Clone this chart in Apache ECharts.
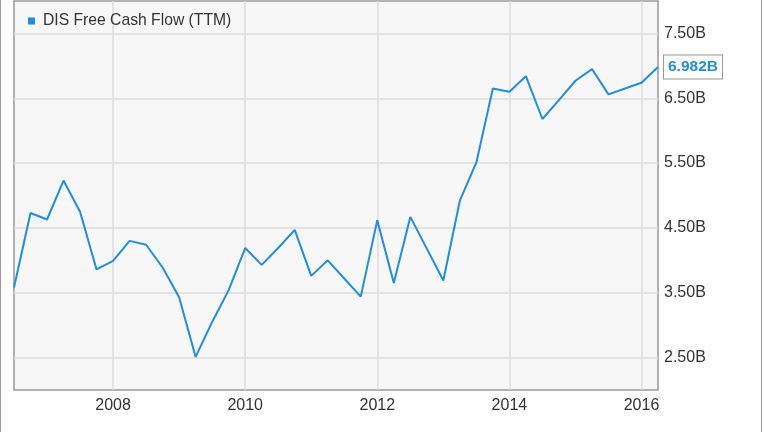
<!DOCTYPE html>
<html>
<head>
<meta charset="utf-8">
<script src="https://cdn.jsdelivr.net/npm/echarts@6/dist/echarts.min.js"></script>
<style>
  html, body { margin: 0; padding: 0; background: #fff; }
  #chart { position: absolute; left: 0; top: 0; width: 764px; height: 432px; }
  #frame { position: absolute; left: 0; top: 0; width: 760px; height: 432px;
           border-left: 1px solid #999; border-right: 1px solid #999; pointer-events: none; }
</style>
</head>
<body>
<div id="chart"></div>
<div id="frame"></div>
<script>
// Quarter ends (year, quarter)
const quarters = [
  '2006Q2','2006Q3','2006Q4','2007Q1','2007Q2','2007Q3','2007Q4','2008Q1',
  '2008Q2','2008Q3','2008Q4','2009Q1','2009Q2','2009Q3','2009Q4','2010Q1',
  '2010Q2','2010Q3','2010Q4','2011Q1','2011Q2','2011Q3','2011Q4','2012Q1',
  '2012Q2','2012Q3','2012Q4','2013Q1','2013Q2','2013Q3','2013Q4','2014Q1',
  '2014Q2','2014Q3','2014Q4','2015Q1','2015Q2','2015Q3','2015Q4','2016Q1'
];
// DIS Free Cash Flow (TTM), billions USD
const fcf = [
  3.58, 4.73, 4.63, 5.23, 4.75, 3.86, 3.99, 4.30,
  4.24, 3.89, 3.43, 2.51, 3.05, 3.54, 4.19, 3.93,
  4.19, 4.47, 3.76, 4.00, 3.72, 3.44, 4.62, 3.65,
  4.67, 4.18, 3.69, 4.92, 5.51, 6.65, 6.60, 6.84,
  6.18, 6.47, 6.77, 6.95, 6.56, 6.65, 6.74, 6.982
];
const seriesName = 'DIS Free Cash Flow (TTM)';
const yearLabels = [2008, 2010, 2012, 2014, 2016];

function qToYear(q) {
  const y = parseInt(q.slice(0, 4), 10);
  const n = parseInt(q.slice(5), 10);
  return y + n / 4;
}
const data = quarters.map((q, i) => [qToYear(q), fcf[i]]);

const blue = '#1e8ee8';
const grid = '#dcdcdc';
const chart = echarts.init(document.getElementById('chart'), null, { renderer: 'canvas' });
chart.setOption({
  animation: false,
  backgroundColor: '#fff',
  textStyle: { fontFamily: 'Liberation Sans, Arial, sans-serif' },
  legend: {
    left: 23, top: 8,
    icon: 'rect', itemWidth: 7, itemHeight: 7,
    textStyle: { fontSize: 15.7, color: '#333', padding: [0, 0, 0, 3] },
    data: [seriesName]
  },
  grid: {
    left: 14, right: 106, top: 1, bottom: 42,
    show: true, backgroundColor: '#f7f7f7', borderColor: '#999', borderWidth: 1.5
  },
  xAxis: {
    type: 'value', min: 2006.5, max: 2016.25, interval: 0.5,
    axisLine: { show: false }, axisTick: { show: false },
    axisLabel: {
      fontSize: 16, color: '#333', margin: 8,
      formatter: v => (yearLabels.indexOf(Math.round(v * 100) / 100) >= 0 ? String(v) : '')
    },
    splitLine: { show: true, showMinLine: true, showMaxLine: true,
      lineStyle: { color: ['transparent', 'transparent', 'transparent', grid], width: 1.5 } }
  },
  yAxis: {
    type: 'value', position: 'right', min: 2, max: 8, interval: 0.5,
    axisLine: { show: false }, axisTick: { show: false },
    axisLabel: {
      fontSize: 16, color: '#333', margin: 6,
      formatter: v => (Math.abs((v % 1) - 0.5) < 1e-6 ? v.toFixed(2) + 'B' : '')
    },
    splitLine: { show: true, showMinLine: true, showMaxLine: true,
      lineStyle: { color: ['transparent', grid], width: 1.5 } }
  },
  series: [{
    name: seriesName,
    type: 'line',
    data: data,
    showSymbol: false,
    symbol: 'none',
    color: blue,
    lineStyle: { color: blue, width: 2 },
    endLabel: {
      show: true,
      distance: 6,
      formatter: p => p.value[1].toFixed(3) + 'B',
      color: blue, fontWeight: 'bold', fontSize: 15.5,
      backgroundColor: '#fff', borderColor: '#999', borderWidth: 1,
      padding: [4, 4, 3, 4]
    }
  }]
});
</script>
</body>
</html>
